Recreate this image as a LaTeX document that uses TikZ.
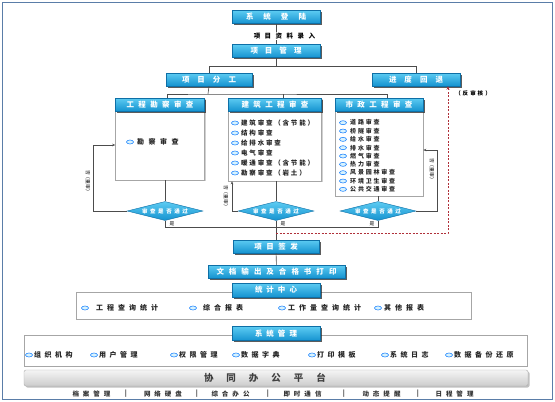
\documentclass[tikz,border=0pt]{standalone}
\usepackage{fontspec}
\setmainfont{Noto Sans CJK SC}
\usetikzlibrary{shapes.geometric,shadows,arrows.meta}
\definecolor{hdrtop}{HTML}{5CCBF2}
\definecolor{hdrbot}{HTML}{1593D0}
\definecolor{hdrline}{HTML}{0E6FA6}
\definecolor{frameblue}{HTML}{5A7DA8}
\definecolor{backred}{HTML}{B0303A}
\tikzset{
  chargap/.style={execute at begin node={\spaceskip=#1\relax}},
  hdr/.style={rectangle, draw=hdrline, top color=hdrtop, bottom color=hdrbot, text=white,
    font=\fontsize{7.5}{8}\selectfont\bfseries, chargap=#1, inner sep=0pt, minimum height=13pt,
    drop shadow={shadow xshift=1.5pt, shadow yshift=-1.5pt, fill=black!85, opacity=.75}},
  hdr/.default=4.4pt,
  panel/.style={rectangle, draw=gray!70, fill=white, line width=.6pt, inner sep=0pt,
    drop shadow={shadow xshift=1.2pt, shadow yshift=-1.2pt, fill=gray!60, opacity=.6}},
  chk/.style={diamond, aspect=4, draw=hdrline, top color=hdrtop, bottom color=hdrbot, text=white, inner sep=0pt,
    minimum width=76pt, minimum height=19pt, font=\fontsize{5.5}{6}\selectfont\bfseries, chargap=2.6pt},
  icon/.style={ellipse, draw=blue!55!cyan, fill=cyan!15, line width=.5pt, inner sep=0pt,
    minimum width=7pt, minimum height=4pt},
  item/.style={anchor=west, inner sep=0pt, text=black!85, font=\fontsize{7}{8}\selectfont\bfseries, chargap=#1},
  item/.default=4pt,
  smallitem/.style={anchor=west, inner sep=0pt, text=black!85, font=\fontsize{#1}{7}\selectfont\bfseries, chargap=1.8pt},
  note/.style={fill=white, inner sep=1pt, font=\fontsize{6.5}{7}\selectfont\bfseries, chargap=4.5pt},
  lbl/.style={inner sep=0pt, font=\fontsize{4.8}{5}\selectfont},
  conn/.style={draw=gray!60!black, line width=.6pt},
  arr/.style={conn, -{Stealth[length=3pt,width=2.5pt]}},
  back/.style={draw=backred, line width=.7pt, dash pattern=on 2pt off 1.5pt, -{Stealth[length=3.5pt,width=3pt]}},
  platform/.style={rectangle, rounded corners=2pt, draw=gray!65, top color=gray!8, bottom color=gray!40,
    minimum width=504pt, minimum height=16pt,
    drop shadow={shadow xshift=1.5pt, shadow yshift=-1.5pt, fill=gray!70, opacity=.7}},
  func/.style={inner sep=0pt, text=black!80, font=\fontsize{6.5}{7}\selectfont\bfseries, chargap=4pt}
}
\begin{document}
\begin{tikzpicture}[x=1pt,y=-1pt]
\useasboundingbox (0,0) rectangle (555,402);
\draw[frameblue, line width=1.2pt, fill=white] (2.5,2.5) rectangle (552.5,399.5);

\node[hdr=10pt, minimum width=88pt] (login) at (276,17) {系 统 登 陆};
\node[hdr=7pt, minimum width=88pt] (projmgmt) at (276,51) {项 目 管 理};
\draw[conn] (login) -- (projmgmt);
\node[note] (entry) at (284.5,36) {项 目 资 料 录 入};

\node[hdr=8pt, minimum width=86pt] (fengong) at (209,79.5) {项 目 分 工};
\node[hdr=8pt, minimum width=88pt] (huitui) at (416,79.5) {进 度 回 退};
\draw[conn] (projmgmt.south) -- (projmgmt.south |- 0,66);
\draw[conn] (fengong.north) |- (huitui.north |- 0,66) -- (huitui.north);
\node[lbl, font=\fontsize{5.5}{6}\selectfont\bfseries, chargap=2pt] (redo) at (473,93) {（ 反 审 核 ）};

% review boxes
\node[panel, minimum width=89pt, minimum height=82pt] (lbox) at (160,139) {};
\node[hdr, minimum width=89pt] (lhdr) at (160,104.5) {工 程 勘 察 审 查};
\node[panel, minimum width=93pt, minimum height=83pt] (mbox) at (275,139.5) {};
\node[hdr, minimum width=93pt] (mhdr) at (275,104.5) {建 筑 工 程 审 查};
\node[panel, minimum width=88pt, minimum height=98pt] (rbox) at (379,147) {};
\node[hdr, minimum width=88pt] (rhdr) at (379,104.5) {市 政 工 程 审 查};

\coordinate (split) at (208,94);
\draw[conn] (fengong.south) -- (split);
\draw[conn] ([xshift=7pt]lhdr.north) |- (split) -| ([xshift=8pt]rhdr.north);
\draw[conn] ([xshift=8pt]mhdr.north) -- ([xshift=8pt]mhdr.north |- split);

\node[icon] (lic) at (130,142) {};
\node[item=4.5pt] (lit) at (137,142) {勘 察 审 查};
\foreach \txt [count=\i from 0] in {建 筑 审 查 （ 含 节 能 ）, 结 构 审 查, 给 排 水 审 查,
    电 气 审 查, 暖 通 审 查 （ 含 节 能 ）, 勘 察 审 查 （ 岩 土 ）} {
  \node[icon] (mic\i) at (235,123+10*\i) {};
  \node[smallitem=6.5] (mit\i) at (241,123+10*\i) {\txt};
}
\foreach \txt [count=\i from 0] in {道 路 审 查, 桥 隧 审 查, 给 水 审 查, 排 水 审 查, 燃 气 审 查,
    热 力 审 查, 风 景 园 林 审 查, 环 境 卫 生 审 查, 公 共 交 通 审 查} {
  \node[icon] (ric\i) at (343,122.7+8.33*\i) {};
  \node[smallitem=6] (rit\i) at (350,122.7+8.33*\i) {\txt};
}

% checks
\node[chk] (ldia) at (165,211) {审 查 是 否 通 过};
\node[chk] (mdia) at (276,211) {审 查 是 否 通 过};
\node[chk] (rdia) at (378,211) {审 查 是 否 通 过};
\draw[conn] (lbox.south -| ldia.north) -- (ldia.north);
\draw[conn] (mbox.south -| mdia.north) -- (mdia.north);
\draw[conn] (rbox.south -| rdia.north) -- (rdia.north);

\draw[arr] (ldia.west) -- ++(-34,0) |- ([yshift=-6pt]lbox.west);
\draw[arr] (mdia.west) -| ([xshift=-43pt]mbox.south);
\draw[arr] (rdia.east) -- ++(21,0) |- ([yshift=-3pt]rbox.east);
\node[lbl, rotate=-90] (re1) at (88,182) {否（重审）};
\node[lbl, rotate=-90] (re2) at (226,197) {否（重审）};
\node[lbl, rotate=-90] (re3) at (432,170) {否（重审）};

\draw[conn] (ldia.south) |- (rdia.south |- 0,227) -- (rdia.south);
\node[lbl] (yes1) at (172,224) {是};
\node[lbl] (yes2) at (283,224) {是};
\node[lbl] (yes3) at (372,224) {是};

\node[hdr=4.5pt, minimum width=86pt] (qianfa) at (276,246.5) {项 目 签 发};
\draw[conn] (mdia.south) -- (qianfa.north);
\coordinate (back) at (276,233);
\draw[back] (back) -| ([xshift=32pt]huitui.south);

\node[hdr=5pt, minimum width=137pt] (wendang) at (276.5,271.5) {文 档 输 出 及 合 格 书 打 印};
\draw[conn] (qianfa) -- (wendang);

% statistics
\node[panel, minimum width=395pt, minimum height=27pt] (tpanel) at (273.5,305.5) {};
\node[hdr=4pt, minimum width=88pt, minimum height=14pt] (tongji) at (276,290) {统 计 中 心};
\foreach \txt/\x/\tx [count=\i] in {工 程 查 询 统 计/85/96, 综 合 报 表/193/203,
    工 作 量 查 询 统 计/282/288, 其 他 报 表/378/384} {
  \node[icon] (sti\i) at (\x,308) {};
  \node[item] (stt\i) at (\tx,308) {\txt};
}

% system management
\node[panel, minimum width=503pt, minimum height=31pt] (spanel) at (275.5,350.5) {};
\node[hdr=4pt, minimum width=88pt, minimum height=14pt] (xitong) at (276,333.5) {系 统 管 理};
\foreach \txt/\x/\tx [count=\i] in {组 织 机 构/29/34, 用 户 管 理/94/99, 权 限 管 理/174/179,
    数 据 字 典/236/241, 打 印 模 板/312/317, 系 统 日 志/385/390, 数 据 备 份 还 原/449/454} {
  \node[icon] (syi\i) at (\x,355) {};
  \node[item=3.5pt] (syt\i) at (\tx,355) {\txt};
}

% platform
\node[platform] (office) at (276,378) {};
\node[text=black!75, font=\fontsize{9.5}{10}\selectfont\bfseries, chargap=13pt] (officetxt) at (265,378) {协 同 办 公 平 台};
\foreach \txt/\x [count=\i] in {档 案 管 理/91.5, 网 络 硬 盘/163, 综 合 办 公/230.5,
    即 时 通 信/302.5, 动 态 提 醒/381.5, 日 程 管 理/454.5}
  \node[func] (fn\i) at (\x,394) {\txt};
\foreach \x [count=\i] in {126,197,268,344,418}
  \node[func] (sep\i) at (\x,394) {|};
\end{tikzpicture}
\end{document}
